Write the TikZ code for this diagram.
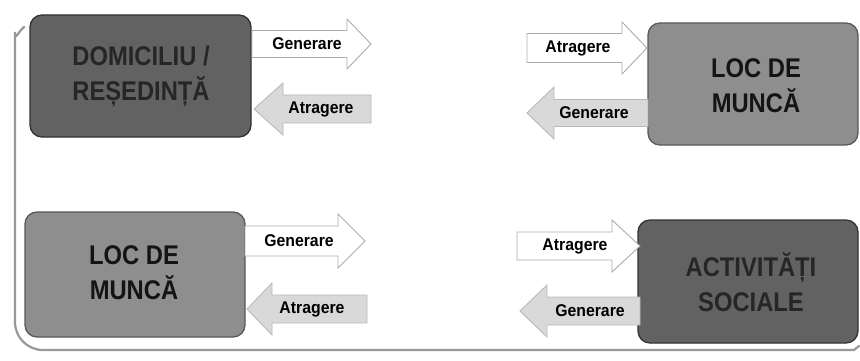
\documentclass[tikz,border=0pt]{standalone}
\usepackage{fontspec}
\newfontfamily\boxfont[FakeStretch=0.88]{Liberation Sans}
\newfontfamily\arrfont[FakeStretch=0.93]{Liberation Sans}
\definecolor{darkbox}{HTML}{626262}
\definecolor{midbox}{HTML}{8E8E8E}
\definecolor{lightarr}{HTML}{D9D9D9}
\newcommand{\blockR}[6]{%
  \path[arrR] (#1,{#4-#5}) -- (#2,{#4-#5}) -- (#2,{#4-#6}) -- (#3,#4) -- (#2,{#4+#6}) -- (#2,{#4+#5}) -- (#1,{#4+#5}) -- cycle;}
\newcommand{\blockL}[6]{%
  \path[arrL] (#1,{#4-#5}) -- (#2,{#4-#5}) -- (#2,{#4-#6}) -- (#3,#4) -- (#2,{#4+#6}) -- (#2,{#4+#5}) -- (#1,{#4+#5}) -- cycle;}
\tikzset{
  darkstyle/.style={draw=black!80, line width=1.3pt, fill=darkbox, rounded corners=12pt},
  midstyle/.style={draw=black!65, line width=1.3pt, fill=midbox, rounded corners=12pt},
  boxtext/.style={align=center, font=\boxfont\bfseries\fontsize{27}{35}\selectfont},
  darklabel/.style={boxtext, text=black!85},
  midlabel/.style={boxtext, text=black!92},
  arrR/.style={fill=white, draw=gray!65, line width=0.9pt},
  arrL/.style={fill=lightarr, draw=gray!55, line width=0.9pt},
  arrlabel/.style={font=\arrfont\bfseries\fontsize{17}{20}\selectfont, text=black, inner sep=0pt},
  framestyle/.style={draw=gray!80, line width=2.2pt, line cap=round}
}
\begin{document}
\begin{tikzpicture}[x=1pt,y=-1pt]
\useasboundingbox (0,0) rectangle (860,361);
% frame
\draw[framestyle, rounded corners=28pt] (24,27) .. controls (17,33) and (15,42) .. (15,60) -- (15,350) -- (854,350);
\draw[framestyle] (854,350) -- (859,346);
% boxes
\draw[darkstyle] (30,15) rectangle (251,137);
\node[darklabel] (dom) at (141,76) {DOMICILIU /\\REȘEDINȚĂ};
\draw[midstyle] (648,23) rectangle (858,145);
\node[midlabel] (loc1) at (756,86) {LOC DE\\MUNCĂ};
\draw[midstyle] (25,212) rectangle (245,337);
\node[midlabel] (loc2) at (134,273) {LOC DE\\MUNCĂ};
\draw[darkstyle] (638,220) rectangle (858,343);
\node[darklabel] (act) at (751,282) {ACTIVITĂȚI\\SOCIALE};
% arrows top-left
\blockR{252}{347}{371}{44}{13.5}{25}
\node[arrlabel] (g1) at (307,44) {Generare};
\blockL{371}{283}{254}{109}{14}{26}
\node[arrlabel] (a1) at (321,109) {Atragere};
% arrows top-right
\blockR{527}{622}{647}{48}{14.5}{26}
\node[arrlabel] (a2) at (578,48) {Atragere};
\blockL{648}{554}{527}{113}{13.5}{26}
\node[arrlabel] (g2) at (594,113) {Generare};
% arrows bottom-left
\blockR{245}{338}{365}{241}{15}{27}
\node[arrlabel] (g3) at (299,241) {Generare};
\blockL{367}{272}{247}{309}{14}{26}
\node[arrlabel] (a3) at (312,309) {Atragere};
% arrows bottom-right
\blockR{517}{612}{640}{246}{14}{26}
\node[arrlabel] (a4) at (575,246) {Atragere};
\blockL{640}{547}{520}{311}{14}{26}
\node[arrlabel] (g4) at (590,311) {Generare};
\end{tikzpicture}
\end{document}
